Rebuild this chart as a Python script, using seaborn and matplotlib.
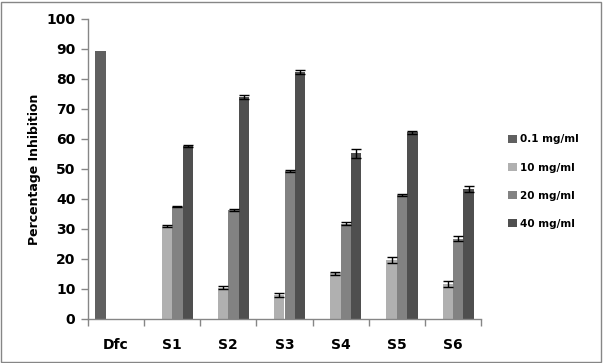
import matplotlib
matplotlib.use("Agg")
import matplotlib.pyplot as plt
import seaborn as sns
import numpy as np
import pandas as pd
from matplotlib.patches import Rectangle, Patch

categories = ["Dfc", "S1", "S2", "S3", "S4", "S5", "S6"]
series = ["0.1 mg/ml", "10 mg/ml", "20 mg/ml", "40 mg/ml"]
vals_01 = [89.3, np.nan, np.nan, np.nan, np.nan, np.nan, np.nan]
vals_10 = [np.nan, 31.0, 10.5, 8.0, 15.2, 19.7, 11.7]
vals_20 = [np.nan, 37.5, 36.3, 49.3, 31.8, 41.3, 26.8]
vals_40 = [np.nan, 57.6, 74.1, 82.3, 55.3, 62.2, 43.4]
err_01 = [0, 0, 0, 0, 0, 0, 0]
err_10 = [0, 0.3, 0.5, 0.6, 0.5, 1.0, 1.0]
err_20 = [0, 0.2, 0.3, 0.3, 0.6, 0.3, 0.9]
err_40 = [0, 0.4, 0.6, 0.6, 1.5, 0.4, 1.0]
yticks = [0, 10, 20, 30, 40, 50, 60, 70, 80, 90, 100]
colors = ["#606060", "#b0b0b0", "#828282", "#4f4f4f"]

all_vals = [vals_01, vals_10, vals_20, vals_40]
all_errs = [err_01, err_10, err_20, err_40]
rows = []
for s, vs, es in zip(series, all_vals, all_errs):
    for c, v, e in zip(categories, vs, es):
        rows.append({"cat": c, "series": s, "value": v, "err": e})
df = pd.DataFrame(rows)

sns.set_style("white")
plt.rcParams["font.family"] = ["DejaVu Sans"]
plt.rcParams["text.color"] = "black"
plt.rcParams["axes.labelcolor"] = "black"
plt.rcParams["xtick.color"] = "black"
plt.rcParams["ytick.color"] = "black"

fig = plt.figure(figsize=(6.03, 3.63), dpi=100)
ax = fig.add_axes([88 / 603, (363 - 319) / 363, (481 - 88) / 603, 300 / 363])

W = 0.74
sns.barplot(data=df, x="cat", y="value", hue="series", order=categories,
            hue_order=series, palette=colors, width=W, gap=0, errorbar=None,
            saturation=1, legend=False, ax=ax, linewidth=0)

nb = len(series)
bw = W / nb
for j, s in enumerate(series):
    sub = df[df.series == s].set_index("cat").loc[categories]
    xs = np.arange(len(categories)) - W / 2 + bw * (j + 0.5)
    mask = sub["value"].notna().values & (sub["err"].values > 0)
    ax.errorbar(xs[mask], sub["value"].values[mask], yerr=sub["err"].values[mask],
                fmt="none", ecolor="black", elinewidth=1, capsize=3.5, capthick=1)

ax.set_ylim(0, 100)
ax.set_xlim(-0.5, len(categories) - 0.5)
ax.set_yticks(yticks)
ax.set_yticklabels([str(t) for t in yticks], fontsize=10, fontweight="bold")
ax.set_xticks(range(len(categories)))
ax.set_xticklabels(categories, fontsize=10, fontweight="bold")
ax.set_xticks(np.arange(-0.5, len(categories)), minor=True)
ax.tick_params(axis="x", which="major", length=0, pad=14, bottom=True)
ax.tick_params(axis="x", which="minor", length=5, width=1, color="#868686",
               direction="out", bottom=True)
ax.tick_params(axis="y", length=5, width=1, color="#868686", labelcolor="black",
               direction="out", pad=4, left=True)
ax.set_xlabel("")
ax.set_ylabel("Percentage Inhibition", fontsize=9, fontweight="bold", labelpad=4)
for sp in ["top", "right"]:
    ax.spines[sp].set_visible(False)
for sp in ["left", "bottom"]:
    ax.spines[sp].set_color("#868686")
    ax.spines[sp].set_linewidth(1)

handles = [Patch(facecolor=c, edgecolor="none") for c in colors]
fig.legend(handles, series, loc="upper left", bbox_to_anchor=(499 / 603, 1 - 125 / 363),
           frameon=False, prop={"weight": "bold", "size": 7.5}, handlelength=0.8,
           handleheight=0.8, handletextpad=0.3, labelspacing=1.75)

fig.patches.append(Rectangle((1 / 603, 1 / 363), 600 / 603, 360 / 363, transform=fig.transFigure,
                             fill=False, edgecolor="#868686", linewidth=1))

fig.savefig("out.png", dpi=100)
